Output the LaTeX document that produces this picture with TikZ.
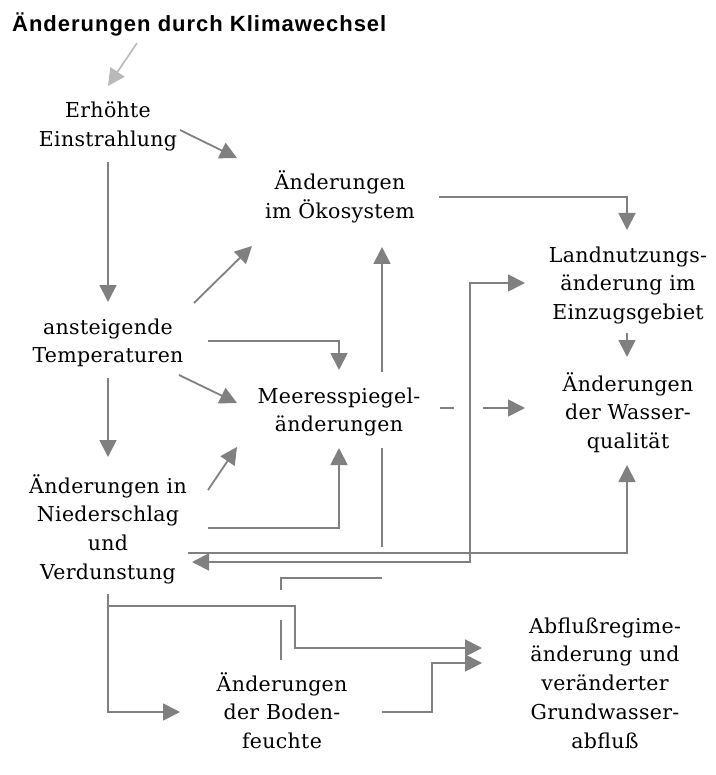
\documentclass[tikz,border=0pt]{standalone}
\usepackage{fontspec}
\usetikzlibrary{arrows.meta}
\newfontfamily\bodyfont[LetterSpace=1.5]{DejaVu Serif}
\newfontfamily\titlefont[LetterSpace=4.5]{Liberation Sans}
\definecolor{linegray}{RGB}{128,128,128}
\definecolor{paleline}{RGB}{185,185,185}
\newcommand\stackl[1]{\begin{tabular}[t]{@{}c@{}}#1\end{tabular}}
\begin{document}
\begin{tikzpicture}[x=1pt,y=-1pt,
  txt/.style={inner sep=0pt, anchor=base, font=\bodyfont\fontsize{20.5}{28.8}\selectfont},
  conn/.style={draw=linegray, line width=1.8pt},
  arr/.style={conn, -{Triangle[length=17pt,width=17pt]}},
  biarr/.style={conn, {Triangle[length=17pt,width=17pt]}-{Triangle[length=17pt,width=17pt]}},
  palearr/.style={draw=paleline, line width=1.6pt, -{Triangle[length=17pt,width=17pt]}}
]
\fill[white] (0,0) rectangle (715,775);
\useasboundingbox (0,0) rectangle (715,775);

% nodes
\node[anchor=base west, inner sep=0pt, font=\titlefont\bfseries\fontsize{22}{26}\selectfont] (title) at (12,32) {Änderungen durch Klimawechsel};
\node[txt] (erh) at (108,118) {\stackl{Erhöhte\\Einstrahlung}};
\node[txt] (oek) at (340,190) {\stackl{Änderungen\\im Ökosystem}};
\node[txt] (temp) at (108,334) {\stackl{ansteigende\\Temperaturen}};
\node[txt] (land) at (628,262) {\stackl{Landnutzungs-\\änderung im\\Einzugsgebiet}};
\node[txt] (wasser) at (628,391) {\stackl{Änderungen\\der Wasser-\\qualität}};
\node[txt] (meer) at (339,403) {\stackl{Meeresspiegel-\\änderungen}};
\node[txt] (nied) at (108,493) {\stackl{Änderungen in\\Niederschlag\\und\\Verdunstung}};
\node[txt] (boden) at (282,691) {\stackl{Änderungen\\der Boden-\\feuchte}};
\node[txt] (abfl) at (605,633) {\stackl{Abflußregime-\\änderung und\\veränderter\\Grundwasser-\\abfluß}};

% connectors
\draw[palearr] ([shift={(125,11)}]title.base west) -- ([shift={(0,-32)}]erh.base);
\draw[arr] ([shift={(72,12)}]erh.base) -- ([shift={(-103,-32)}]oek.base);
\draw[arr] ([shift={(0,44)}]erh.base) -- ([shift={(0,-32)}]temp.base);
\draw[arr] ([shift={(86,-31)}]temp.base) -- ([shift={(-88,56)}]oek.base);
\draw[arr] ([shift={(100,7)}]temp.base) -| ([shift={(0,-33)}]meer.base);
\draw[arr] ([shift={(71,41)}]temp.base) -- ([shift={(-102,0)}]meer.base);
\draw[arr] ([shift={(0,44)}]temp.base) -- ([shift={(0,-36)}]nied.base);
\draw[arr] ([shift={(99,7)}]oek.base) -| ([shift={(-1,-32)}]land.base);
\draw[arr] ([shift={(43,-31)}]meer.base) -- ([shift={(42,57)}]oek.base);
\draw[arr] ([shift={(-1,71)}]land.base) -- ([shift={(-1,-34)}]wasser.base);
\draw[conn] ([shift={(101,5)}]meer.base) -- ([shift={(115,5)}]meer.base);
\draw[arr] ([shift={(144,5)}]meer.base) -- ([shift={(-103,17)}]wasser.base);
\draw[arr] ([shift={(100,-3)}]nied.base) -- ([shift={(-102,44)}]meer.base);
\draw[arr] ([shift={(100,35)}]nied.base) -| ([shift={(0,45)}]meer.base);
\draw[arr] ([shift={(80,60)}]nied.base) -| ([shift={(-1,74)}]wasser.base);
\draw[biarr] ([shift={(84,69)}]nied.base) -| ([shift={(-158,21)}]land.base) -- ([shift={(-103,21)}]land.base);
% Meeresspiegel to Bodenfeuchte, with gaps at crossings
\draw[conn] ([shift={(43,45)}]meer.base) -- ([shift={(43,144)}]meer.base);
\draw[conn] ([shift={(43,175)}]meer.base) -| ([shift={(-1,-101)}]boden.base);
\draw[conn] ([shift={(-1,-71)}]boden.base) -- ([shift={(-1,-31)}]boden.base);
% Verdunstung to Abfluss and Bodenfeuchte
\draw[arr] ([shift={(0,101)}]nied.base) -- ([shift={(0,113)}]nied.base) -| ([shift={(-310,15)}]abfl.base) -- ([shift={(-123,15)}]abfl.base);
\draw[arr] ([shift={(0,101)}]nied.base) |- ([shift={(-102,21)}]boden.base);
\draw[arr] ([shift={(100,21)}]boden.base) -| ([shift={(-173,30)}]abfl.base) -- ([shift={(-123,30)}]abfl.base);
\end{tikzpicture}
\end{document}
